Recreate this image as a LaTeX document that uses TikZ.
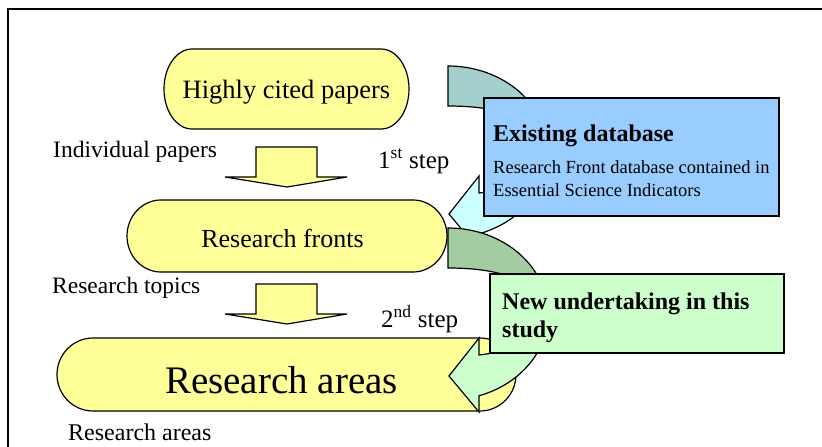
\documentclass[tikz,border=0pt]{standalone}
\usepackage{fontspec}
\setmainfont{Liberation Serif}
\definecolor{padyellow}{HTML}{FFFF99}
\definecolor{dbblue}{HTML}{99CCFF}
\definecolor{newgreen}{HTML}{CCFFCC}
\definecolor{cyanfront}{HTML}{CCFFFF}
\definecolor{cyanback}{HTML}{A3CFCC}
\definecolor{greenfront}{HTML}{CCFFCC}
\definecolor{greenback}{HTML}{A3CCA3}

% stadium-like box: x1, y1, x2, y2, horizontal end radius
\newcommand\drawcapsule[5]{%
  \filldraw[padfill] ({#1+#5},#2) -- ({#3-#5},#2)
    arc[start angle=-90,end angle=90,x radius=#5,y radius={(#4-#2)/2}]
    -- ({#1+#5},#4)
    arc[start angle=90,end angle=270,x radius=#5,y radius={(#4-#2)/2}]
    -- cycle;}

% curved block arrow bending round the right and pointing back left
\def\bentpath{(448,228) arc[start angle=-90,end angle=72,x radius=100,y radius=86]
  -- (479,412) -- (449,376) -- (479,338) -- (479,355)
  .. controls (525,350) and (540,330) .. (540,312)
  .. controls (540,285) and (510,268) .. (448,268) -- cycle}

\newcommand\bentarrow[3]{%
  \begin{scope}[yshift=#1]
    \fill[#2] \bentpath;
    \begin{scope}
      \clip (430,200) rectangle (580,314);
      \fill[#3] \bentpath;
    \end{scope}
    \draw[outline] \bentpath;
  \end{scope}}

% downward block arrow with a flat head; top of shaft at y = #1
\newcommand\stepdownarrow[1]{%
  \filldraw[padfill] (256,#1) -- (317,#1) -- (317,{#1+30}) -- (347,{#1+30})
    -- (287,{#1+40}) -- (225,{#1+30}) -- (256,{#1+30}) -- cycle;}

\begin{document}
\begin{tikzpicture}[x=1pt,y=-1pt,
  outline/.style={draw=black,line width=1.2pt,line join=miter},
  padfill/.style={outline,fill=padyellow},
  lbl/.style={inner sep=0pt,anchor=base west},
  centred/.style={inner sep=0pt,anchor=base},
  notebox/.style={draw=black,line width=1.6pt,inner sep=0pt,anchor=north west}]
\useasboundingbox (0,0) rectangle (822,447);
\clip (0,0) rectangle (822,447);

% page frame
\draw[line width=2pt] (8,470) -- (8,9) -- (840,9);

% level boxes
\drawcapsule{164}{49}{409}{129}{28}
\drawcapsule{127}{200}{447}{272}{34}
\drawcapsule{57}{338}{516}{411}{36}

\node[centred,font=\fontsize{26.5}{30}\selectfont] (papers) at (286.5,98) {Highly cited papers};
\node[centred,font=\fontsize{26}{30}\selectfont] (fronts) at (282.5,247) {Research fronts};
\node[centred,font=\fontsize{39}{44}\selectfont] (areas) at (281.5,393) {Research areas};

% steps between levels
\stepdownarrow{147}
\stepdownarrow{284}

\node[lbl,font=\fontsize{23.5}{28}\selectfont] (lblpapers) at (53,157) {Individual papers};
\node[lbl,font=\fontsize{23.5}{28}\selectfont] (lbltopics) at (52,293) {Research topics};
\node[lbl,font=\fontsize{24}{28}\selectfont] (lblareas) at (68,440) {Research areas};
\node[lbl,font=\fontsize{25}{30}\selectfont] (step1) at (378,168) {1\textsuperscript{st} step};
\node[lbl,font=\fontsize{25}{30}\selectfont] (step2) at (381,327) {2\textsuperscript{nd} step};

% curved arrows from each level down to the next
\bentarrow{162pt}{cyanfront}{cyanback}
\bentarrow{0pt}{greenfront}{greenback}

% note boxes
\node[notebox,fill=dbblue,minimum width=295pt,minimum height=118pt] (dbbox) at (483,97) {};
\node[lbl,font=\bfseries\fontsize{24}{28}\selectfont] (dbtitle) at (493,141) {Existing database};
\node[lbl,font=\fontsize{18.5}{23}\selectfont] (dbline1) at (493,173) {Research Front database contained in};
\node[lbl,font=\fontsize{18.5}{23}\selectfont] (dbline2) at (493,196) {Essential Science Indicators};

\node[notebox,fill=newgreen,minimum width=294pt,minimum height=79pt] (newbox) at (489,273) {};
\node[lbl,font=\bfseries\fontsize{24}{28}\selectfont] (newline1) at (502,309) {New undertaking in this};
\node[lbl,font=\bfseries\fontsize{24}{28}\selectfont] (newline2) at (502,337) {study};
\end{tikzpicture}
\end{document}
